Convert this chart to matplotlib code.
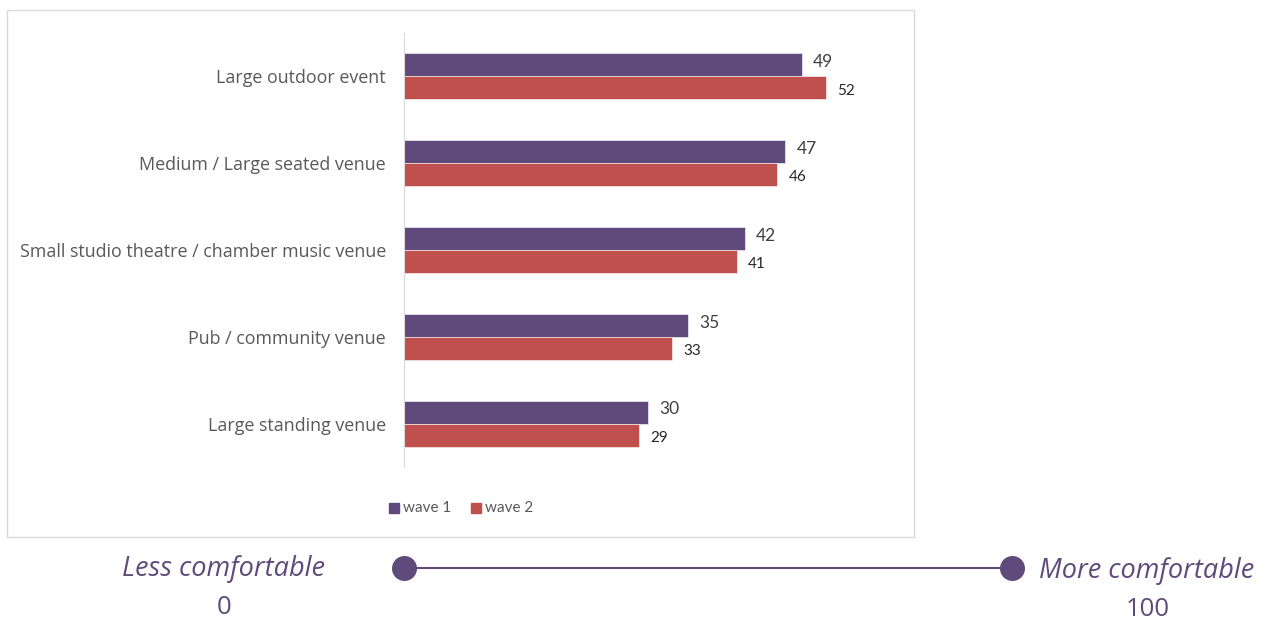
import matplotlib
matplotlib.use("Agg")
import matplotlib.pyplot as plt
from matplotlib.patches import Rectangle
from matplotlib.lines import Line2D

categories = ["Large outdoor event", "Medium / Large seated venue",
              "Small studio theatre / chamber music venue",
              "Pub / community venue", "Large standing venue"]
wave1 = [49, 47, 42, 35, 30]
wave2 = [52, 46, 41, 33, 29]
series_names = ["wave 1", "wave 2"]
scale_labels = ["Less comfortable", "More comfortable"]
scale_values = ["0", "100"]

PURPLE = "#604A7B"
RED = "#C0504D"
W, H = 1269, 623
plt.rcParams['font.family'] = ['Lato', 'DejaVu Sans']
WIDE = ['Open Sans', 'DejaVu Sans']

fig = plt.figure(figsize=(W / 100, H / 100), dpi=100)

# chart box
fig.patches.append(Rectangle((7 / W, 1 - 537 / H), 907 / W, 527 / H,
                             transform=fig.transFigure, fill=False,
                             edgecolor="#D9D9D9", linewidth=1))

ax = fig.add_axes([404 / W, 1 - 467 / H, 487 / W, 434 / H])
n = len(categories)
ypos = list(range(n))
bh = 0.265
ax.barh([y - bh / 2 for y in ypos], wave1, height=bh, color=PURPLE,
        edgecolor="white", linewidth=0.4)
ax.barh([y + bh / 2 for y in ypos], wave2, height=bh, color=RED,
        edgecolor="white", linewidth=0.4)
ax.set_xlim(0, 60)
ax.set_ylim(n - 0.5, -0.5)
ax.set_yticks(ypos)
ax.set_yticklabels(categories, fontsize=12.9, color="#595959", family=WIDE)
ax.tick_params(axis='y', length=0, pad=13)
ax.set_xticks([])
for s in ["top", "right", "bottom"]:
    ax.spines[s].set_visible(False)
ax.spines["left"].set_color("#D9D9D9")
for y, v1, v2 in zip(ypos, wave1, wave2):
    ax.text(v1 + 1.4, y - bh / 2 - 0.03, str(v1), va="center", ha="left",
            fontsize=12.5, color="#404040")
    ax.text(v2 + 1.4, y + bh / 2 + 0.03, str(v2), va="center", ha="left",
            fontsize=11, color="#262626")

# legend
lx = 389
for name, col in zip(series_names, [PURPLE, RED]):
    fig.patches.append(Rectangle((lx / W, 1 - 513 / H), 10 / W, 10 / H,
                                 transform=fig.transFigure, color=col))
    fig.text((lx + 14) / W, 1 - 508 / H, name, fontsize=11, color="#595959",
             va="center", ha="left")
    lx += 82

# comfort scale
fig.add_artist(Line2D([404 / W, 1012 / W], [1 - 568 / H, 1 - 568 / H],
                      transform=fig.transFigure, color=PURPLE, linewidth=1.5))
for x in [404, 1012]:
    fig.add_artist(Line2D([x / W], [1 - 568 / H], transform=fig.transFigure,
                          marker="o", markersize=18, color=PURPLE,
                          markeredgewidth=0))
fig.text(224 / W, 1 - 569 / H, scale_labels[0], fontsize=19.5, style="italic",
         color=PURPLE, ha="center", va="center", family=WIDE)
fig.text(224 / W, 1 - 608 / H, scale_values[0], fontsize=18.5,
         color=PURPLE, ha="center", va="center", family=WIDE)
fig.text(1147 / W, 1 - 571 / H, scale_labels[1], fontsize=19.5, style="italic",
         color=PURPLE, ha="center", va="center", family=WIDE)
fig.text(1148 / W, 1 - 610 / H, scale_values[1], fontsize=18.5,
         color=PURPLE, ha="center", va="center", family=WIDE)

fig.savefig("out.png", dpi=100, facecolor="white")
